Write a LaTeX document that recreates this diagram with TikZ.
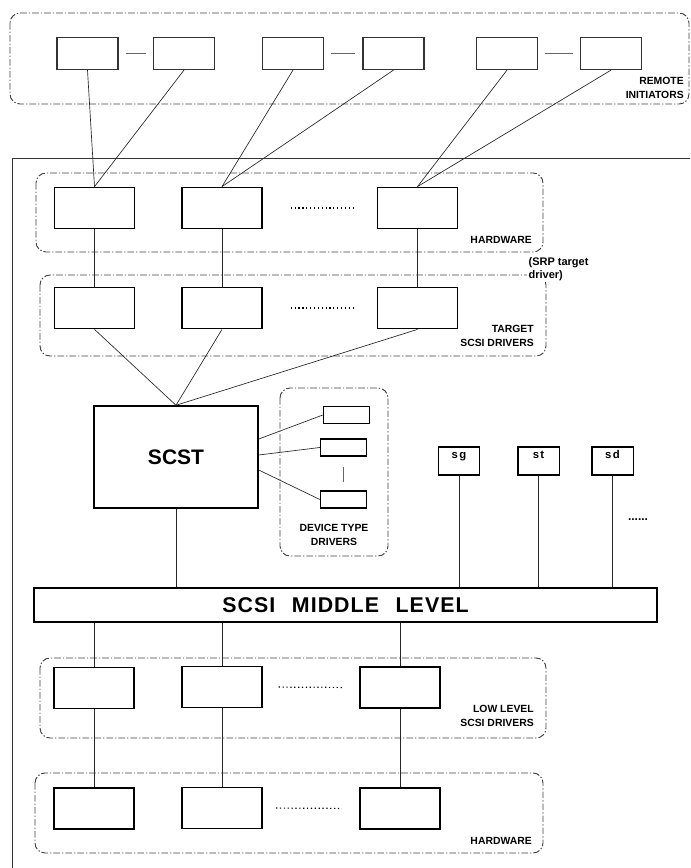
\documentclass[tikz,border=0pt]{standalone}
\usepackage{fontspec}
\setmainfont{Liberation Sans}
\newfontfamily\spacedfont[LetterSpace=12]{Liberation Sans}
\newfontfamily\midfont[LetterSpace=5]{Liberation Sans}
\begin{document}
\begin{tikzpicture}[x=0.75pt, y=-0.75pt,
	blk/.style = {draw, fill=white, line width=1.1pt, inner sep=0pt, minimum width=60pt, minimum height=31pt},
	rinit/.style = {draw=black!80, fill=white, line width=0.9pt, inner sep=0pt, minimum width=45.75pt, minimum height=24pt},
	devbox/.style = {draw, fill=white, line width=1pt, inner sep=0pt, minimum width=34.5pt, minimum height=12.75pt},
	ulp/.style = {draw, fill=white, line width=1pt, inner sep=0pt, minimum width=31pt, minimum height=21pt,
		font=\spacedfont\fontsize{8.5}{10}\selectfont\bfseries, text height=6pt, text depth=10pt},
	grp/.style = {draw=black!75, line width=0.7pt, rounded corners=7.5pt, dash pattern=on 5pt off 1.5pt on 1pt off 1.5pt},
	lbl/.style = {font=\fontsize{7.8}{10.5}\selectfont\bfseries, inner sep=0pt},
	wire/.style = {black!85, line width=0.5pt},
	dots/.style = {dotted, line width=0.9pt}]
	\clip (0,0) rectangle (690,868);
	% frames
	\draw[black!80, line width=0.6pt] (12,900) -- (12,158) -- (720,158);
	\draw[grp] (10,13) rectangle (689,104);
	\draw[grp] (36,173) rectangle (543,252);
	\draw[grp] (40,275) rectangle (546,356);
	\draw[grp] (280,388) rectangle (388,556);
	\draw[grp] (40,658) rectangle (546,738);
	\draw[grp] (35,773) rectangle (543,853);
	% remote initiators
	\node[rinit] (r1) at (87.5,53.5) {};
	\node[rinit] (r2) at (184,53.5) {};
	\node[rinit] (r3) at (293,53.5) {};
	\node[rinit] (r4) at (393.5,53.5) {};
	\node[rinit] (r5) at (507,53.5) {};
	\node[rinit] (r6) at (611,53.5) {};
	\foreach \a/\b in {r1/r2, r3/r4, r5/r6}
		\draw[black!60, line width=1pt, shorten <=5.25pt, shorten >=5.25pt] (\a.east) -- (\b.west);
	\node[lbl, anchor=east, align=right] (remlbl) at (684,88) {REMOTE\\INITIATORS};
	% hardware
	\node[blk] (h1) at (94.5,208) {};
	\node[blk] (h2) at (222,208) {};
	\node[blk] (h3) at (417.5,208) {};
	\draw[dots, shorten <=21pt, shorten >=16.5pt] (h2.east) -- (h3.west);
	\node[lbl, anchor=east] (hwlbl) at (532,240) {HARDWARE};
	\foreach \a/\b in {r1/h1, r2/h1, r3/h2, r4/h2, r5/h3, r6/h3}
		\draw[wire] (\a.south) -- (\b.north);
	% target drivers
	\node[blk] (t1) at (94.5,308) {};
	\node[blk] (t2) at (222,308) {};
	\node[blk] (t3) at (417.5,308) {};
	\draw[dots, shorten <=21pt, shorten >=16.5pt] (t2.east) -- (t3.west);
	\node[lbl, anchor=east, align=right] (tgtlbl) at (534,336) {TARGET\\SCSI DRIVERS};
	\node[fill=white, inner sep=1pt, anchor=west, align=left, font=\fontsize{8.25}{10}\selectfont\bfseries] (srp) at (527,269) {(SRP target\\driver)};
	\foreach \i in {1,2,3}
		\draw[wire] (h\i.south) -- (t\i.north);
	% scst and device type drivers
	\node[draw, fill=white, line width=1.1pt, minimum width=123pt, minimum height=76.5pt, font=\fontsize{15.75}{18}\selectfont\bfseries] (scst) at (176,457) {SCST};
	\foreach \i in {1,2,3}
		\draw[wire] (t\i.south) -- (scst.north);
	\node[devbox] (dt1) at (346.5,415) {};
	\node[devbox] (dt2) at (343.5,447.5) {};
	\node[devbox] (dt3) at (343.5,499.5) {};
	\draw[black!60, line width=1pt, shorten <=8pt, shorten >=6pt] (dt2.south) -- (dt3.north);
	\draw[wire] ([yshift=13.5pt]scst.east) -- (dt1.west);
	\draw[wire] ([yshift=1.5pt]scst.east) -- (dt2.west);
	\draw[wire] ([yshift=-9.75pt]scst.east) -- (dt3.west);
	\node[lbl, align=center] (dtlbl) at (334,535) {DEVICE TYPE\\DRIVERS};
	% upper level drivers
	\node[ulp] (sg) at (459,461) {sg};
	\node[ulp] (st) at (538.5,461) {st};
	\node[ulp] (sd) at (612.5,461) {sd};
	\node[font=\fontsize{9}{10}\selectfont\bfseries] (more) at (638,520) {......};
	% middle level
	\node[draw, fill=white, line width=1.1pt, minimum width=467pt, minimum height=25.5pt, inner sep=0pt,
		font=\midfont\fontsize{16}{18}\selectfont\bfseries] (mid) at (345.5,605) {SCSI\hspace{0.45em} MIDDLE\hspace{0.45em} LEVEL};
	\draw[wire] (scst.south) -- (scst.south |- mid.north);
	\foreach \u in {sg, st, sd}
		\draw[wire] (\u.south) -- (\u.south |- mid.north);
	% low level drivers
	\node[blk] (l1) at (94,688) {};
	\node[blk] (l2) at (222,687) {};
	\node[blk] (l3) at (400,687.5) {};
	\draw[dots, shorten <=12pt, shorten >=12pt] (l2.east) -- (l3.west);
	\node[lbl, anchor=east, align=right] (lllbl) at (534,716) {LOW LEVEL\\SCSI DRIVERS};
	\foreach \i in {1,2,3}
		\draw[wire] (l\i.north) -- (l\i.north |- mid.south);
	% hardware below
	\node[blk] (b1) at (94,808.5) {};
	\node[blk] (b2) at (222,808) {};
	\node[blk] (b3) at (400,808.5) {};
	\draw[dots, shorten <=10pt, shorten >=13pt] (b2.east) -- (b3.west);
	\node[lbl, anchor=east] (hw2lbl) at (532,841) {HARDWARE};
	\foreach \i in {1,2,3}
		\draw[wire] (l\i.south) -- (b\i.north);
\end{tikzpicture}
\end{document}
